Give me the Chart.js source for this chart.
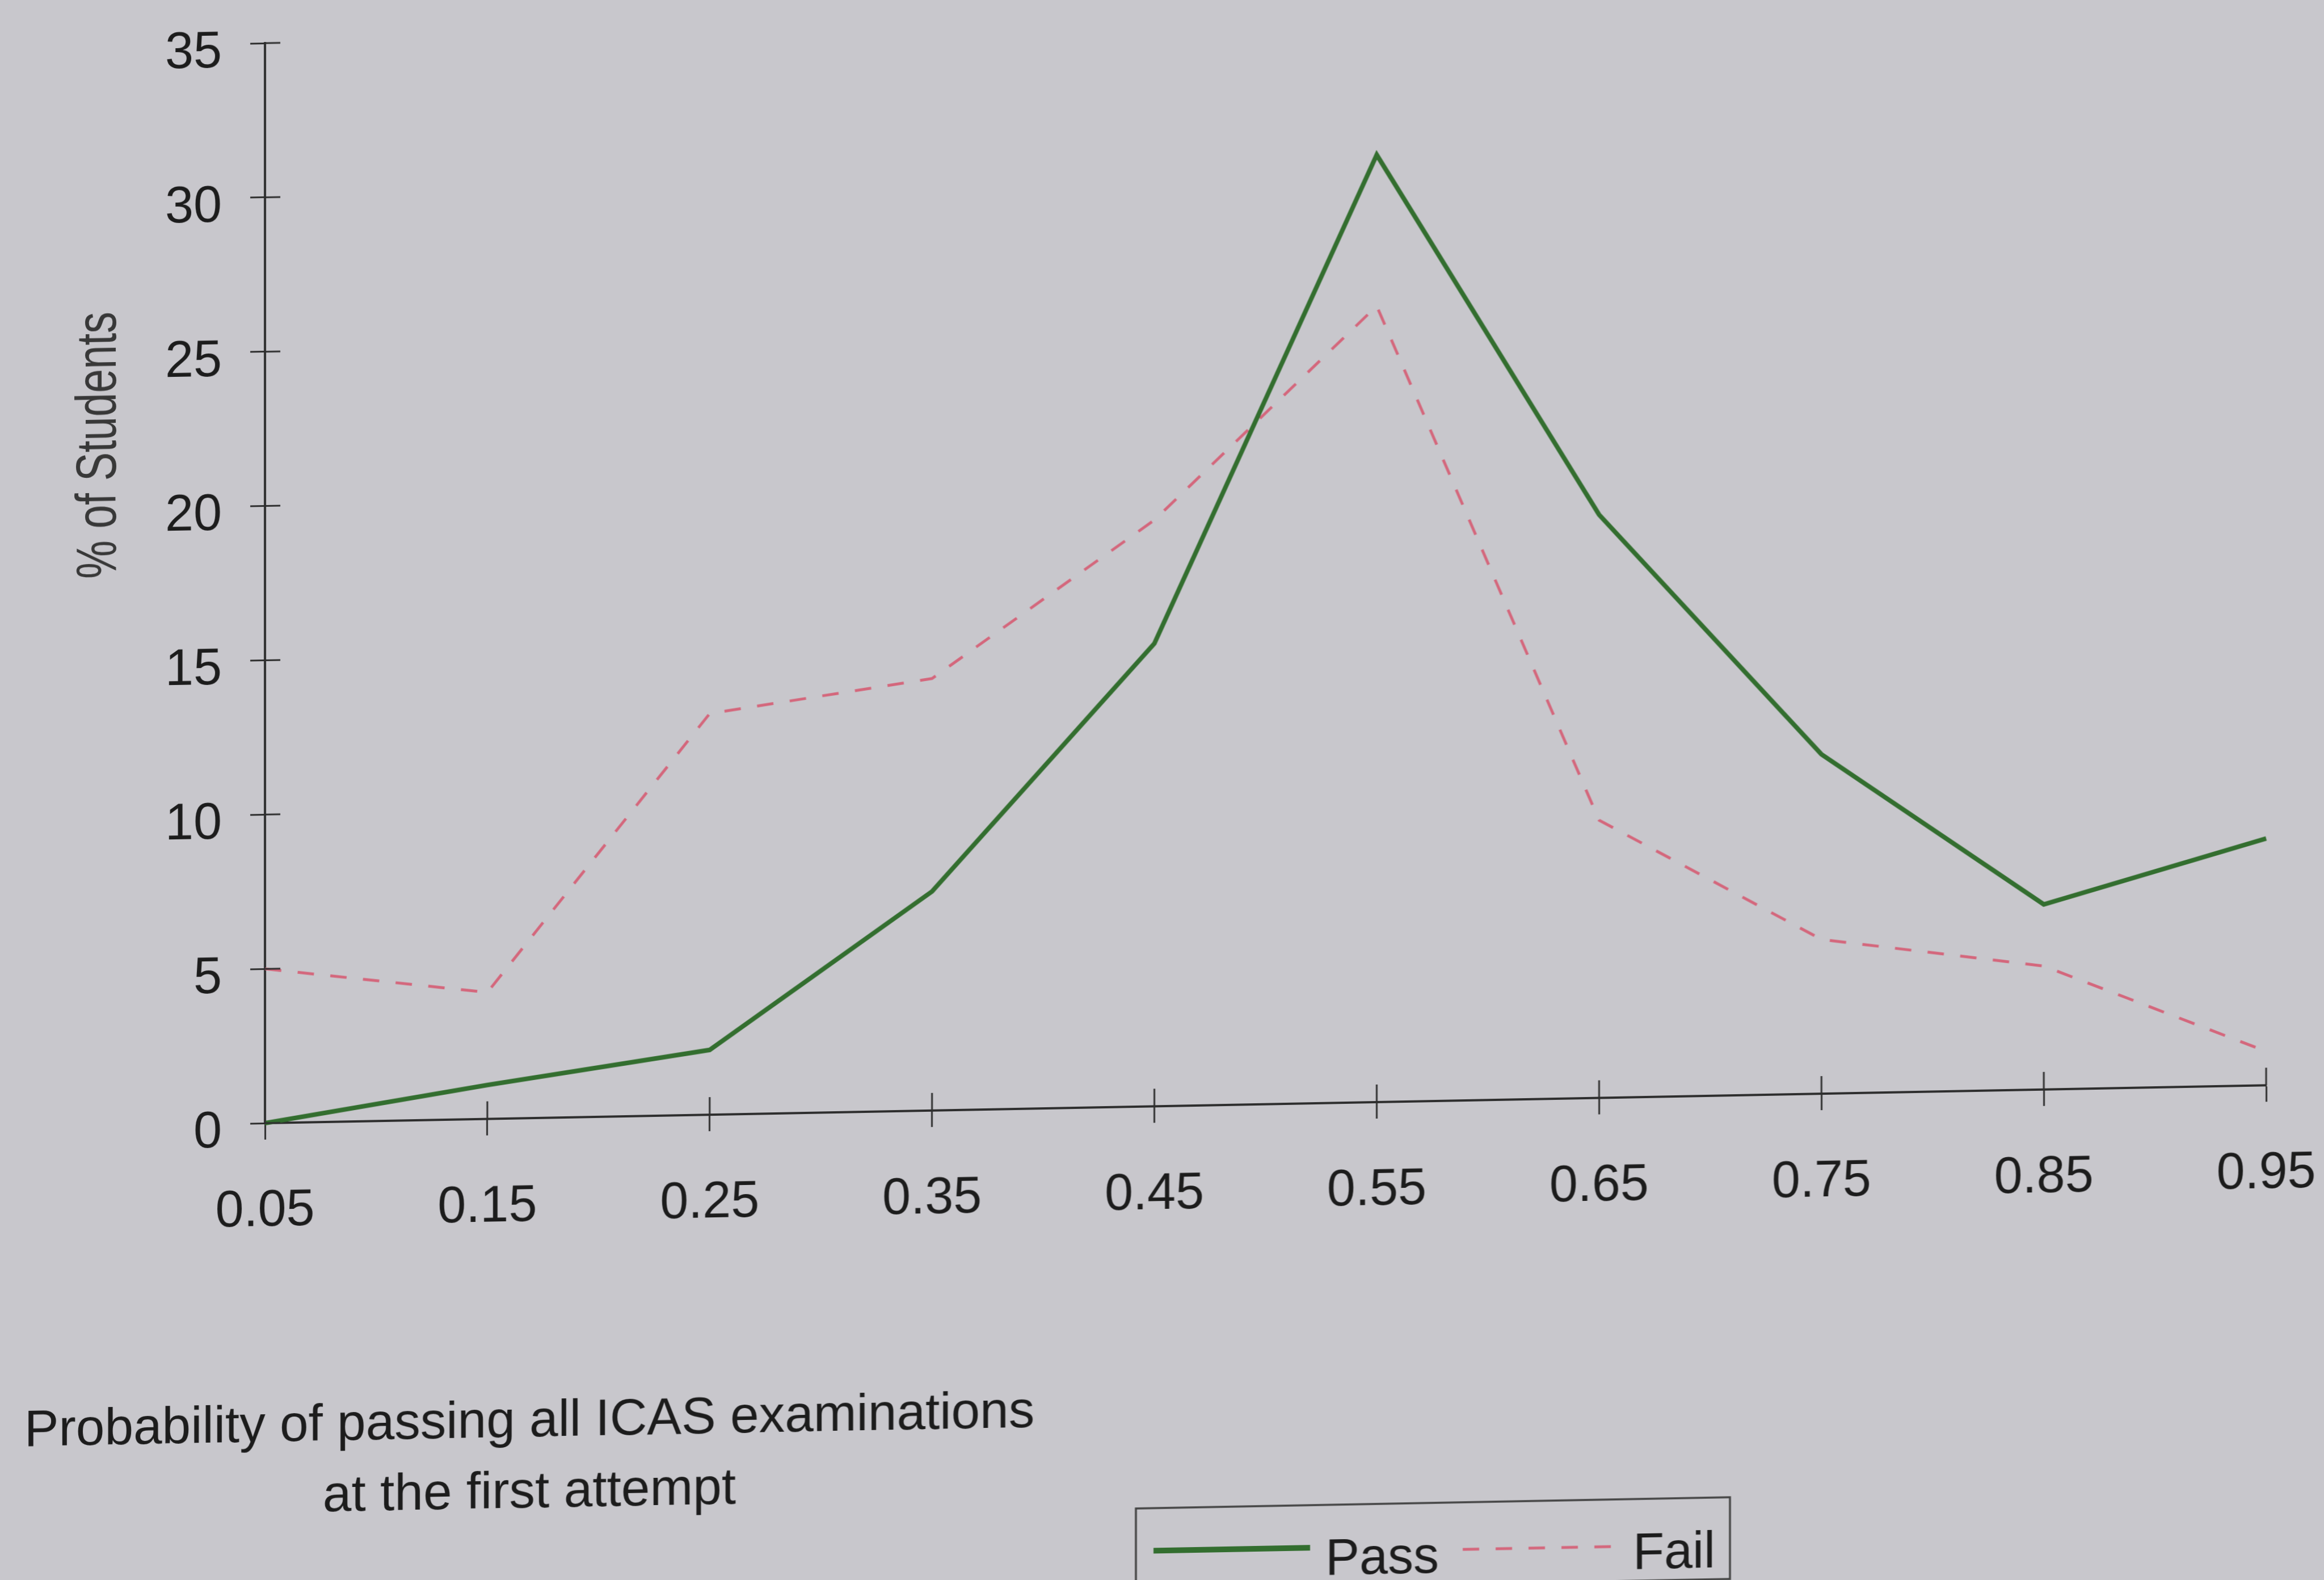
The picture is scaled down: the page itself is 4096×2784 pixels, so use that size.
<!DOCTYPE html>
<html>
<head>
<meta charset="utf-8">
<title>Probability of passing all ICAS examinations at the first attempt</title>
<script src="https://cdn.jsdelivr.net/npm/chart.js@4.4.1/dist/chart.umd.min.js"></script>
<style>
  html, body { margin: 0; padding: 0; width: 4096px; height: 2784px; overflow: hidden; background: #c8c7cc; }
  /* the printed sheet sits slightly sheared on the page */
  #sheet { position: absolute; left: 0; top: 0; width: 4096px; height: 2900px;
           transform: skewY(-1.083deg); transform-origin: 467px 0; }
  canvas { display: block; }
</style>
</head>
<body>
<div id="sheet"><canvas id="chart" width="4096" height="2900" style="width:4096px;height:2900px"></canvas></div>
<script>
// ---- data ----
const probabilityLabels = ['0.05', '0.15', '0.25', '0.35', '0.45', '0.55', '0.65', '0.75', '0.85', '0.95'];
const passPct = [0, 1.1, 2.1, 7.1, 15.0, 30.7, 18.9, 11.0, 6.0, 8.0];
const failPct = [5.0, 4.1, 13.0, 14.0, 19.0, 25.8, 9.0, 5.0, 4.0, 1.1];
const percentTicks = [0, 5, 10, 15, 20, 25, 30, 35];
const seriesNames = ['Pass', 'Fail'];
const yAxisTitle = '% of Students';
const xAxisTitle = ['Probability of passing all ICAS examinations', 'at the first attempt'];

// ---- styling ----
const FONT = "'Liberation Sans', Arial, Helvetica, sans-serif";
const INK = '#1c1c1c';
const AXIS = '#2e2e2e';
const PASS_COLOR = '#336e2f';
const FAIL_COLOR = '#d4677c';
const DASH = [29, 29];

Chart.defaults.font.family = FONT;
Chart.defaults.color = INK;

// keep the plot area fixed: no extra room reserved for end labels
function noEdgePadding(scale) {
  scale.paddingTop = 0;
  scale.paddingBottom = 0;
  scale.paddingLeft = 0;
  scale.paddingRight = 0;
}

// tick marks that cross the axis lines (the library draws the outer half)
const crossTicks = {
  id: 'crossTicks',
  afterDraw(chart, args, o) {
    const { ctx, chartArea: a, scales: { x, y } } = chart;
    ctx.save();
    ctx.strokeStyle = o.color;
    ctx.lineWidth = o.width;
    ctx.beginPath();
    y.ticks.forEach((t, i) => {
      const py = y.getPixelForTick(i);
      ctx.moveTo(a.left, py);
      ctx.lineTo(a.left + o.yLen, py);
    });
    x.ticks.forEach((t, i) => {
      const px = x.getPixelForTick(i);
      ctx.moveTo(px, a.bottom);
      ctx.lineTo(px, a.bottom - o.xLen);
    });
    ctx.stroke();
    ctx.restore();
  }
};

// axis captions and the boxed key
const sheetText = {
  id: 'sheetText',
  afterDraw(chart, args, o) {
    const ctx = chart.ctx;

    // vertical caption, set in a condensed face
    ctx.save();
    ctx.font = `${o.yTitle.size}px ${FONT}`;
    ctx.fillStyle = o.yTitle.color;
    const w = ctx.measureText(yAxisTitle).width;
    ctx.translate(o.yTitle.x, o.yTitle.y);
    ctx.rotate(-Math.PI / 2);
    ctx.scale(o.yTitle.length / w, 1);
    ctx.textAlign = 'center';
    ctx.textBaseline = 'alphabetic';
    ctx.fillText(yAxisTitle, 0, 0);
    ctx.restore();

    // horizontal caption, two centred lines
    ctx.save();
    ctx.font = `${o.xTitle.size}px ${FONT}`;
    ctx.fillStyle = INK;
    ctx.textAlign = 'center';
    ctx.textBaseline = 'alphabetic';
    xAxisTitle.forEach((line, i) => {
      ctx.fillText(line, o.xTitle.x, o.xTitle.baselines[i]);
    });
    ctx.restore();

    // key
    const L = o.legend;
    ctx.save();
    ctx.strokeStyle = L.borderColor;
    ctx.lineWidth = L.borderWidth;
    ctx.strokeRect(L.x, L.y, L.w, L.h);
    ctx.font = `${L.size}px ${FONT}`;
    ctx.textAlign = 'left';
    ctx.textBaseline = 'alphabetic';
    chart.data.datasets.forEach((ds, i) => {
      const it = L.items[i];
      ctx.strokeStyle = ds.borderColor;
      ctx.lineWidth = it.lineWidth;
      ctx.setLineDash(ds.borderDash || []);
      ctx.beginPath();
      ctx.moveTo(it.x0, it.y);
      ctx.lineTo(it.x1, it.y);
      ctx.stroke();
      ctx.setLineDash([]);
      ctx.fillStyle = INK;
      ctx.fillText(ds.label, it.textX, L.baseline);
    });
    ctx.restore();
  }
};

new Chart(document.getElementById('chart'), {
  type: 'line',
  data: {
    labels: probabilityLabels,
    datasets: [
      {
        label: seriesNames[0],
        data: passPct,
        borderColor: PASS_COLOR,
        borderWidth: 8,
        pointRadius: 0,
        tension: 0,
        borderJoinStyle: 'miter',
        fill: false,
        clip: false
      },
      {
        label: seriesNames[1],
        data: failPct,
        borderColor: FAIL_COLOR,
        borderWidth: 5,
        borderDash: DASH,
        pointRadius: 0,
        tension: 0,
        fill: false,
        clip: false
      }
    ]
  },
  options: {
    responsive: false,
    animation: false,
    devicePixelRatio: 1,
    layout: { padding: { left: 0, top: 76, right: 102, bottom: 0 } },
    scales: {
      x: {
        type: 'category',
        offset: false,
        grid: { display: true, drawOnChartArea: false, drawTicks: true, tickLength: 29, tickWidth: 3, tickColor: AXIS, offset: false },
        border: { display: true, color: AXIS, width: 4 },
        ticks: { font: { size: 90 }, color: INK, padding: 73, maxRotation: 0, autoSkip: false },
        afterFit(scale) { scale.height = 921; noEdgePadding(scale); }
      },
      y: {
        type: 'linear',
        min: 0,
        max: 35,
        afterBuildTicks(scale) { scale.ticks = percentTicks.map(v => ({ value: v })); },
        grid: { display: true, drawOnChartArea: false, drawTicks: true, tickLength: 26, tickWidth: 3, tickColor: AXIS },
        border: { display: true, color: AXIS, width: 4 },
        ticks: { font: { size: 90 }, color: INK, padding: 50, labelOffset: 16 },
        afterFit(scale) { scale.width = 467; noEdgePadding(scale); }
      }
    },
    plugins: {
      legend: { display: false },
      tooltip: { enabled: false },
      title: { display: false },
      crossTicks: { color: AXIS, width: 3, yLen: 27, xLen: 31 },
      sheetText: {
        yTitle: { x: 204, y: 779, size: 100, length: 470, color: '#383838' },
        xTitle: { x: 933, baselines: [2540, 2665], size: 91 },
        legend: {
          x: 2002, y: 2687, w: 1047, h: 144, borderColor: '#444444', borderWidth: 3.5,
          size: 90, baseline: 2810,
          items: [
            { x0: 2033, x1: 2309, y: 2762, lineWidth: 10, textX: 2336 },
            { x0: 2578, x1: 2851, y: 2770, lineWidth: 5, textX: 2878 }
          ]
        }
      }
    }
  },
  plugins: [crossTicks, sheetText]
});
</script>
</body>
</html>
